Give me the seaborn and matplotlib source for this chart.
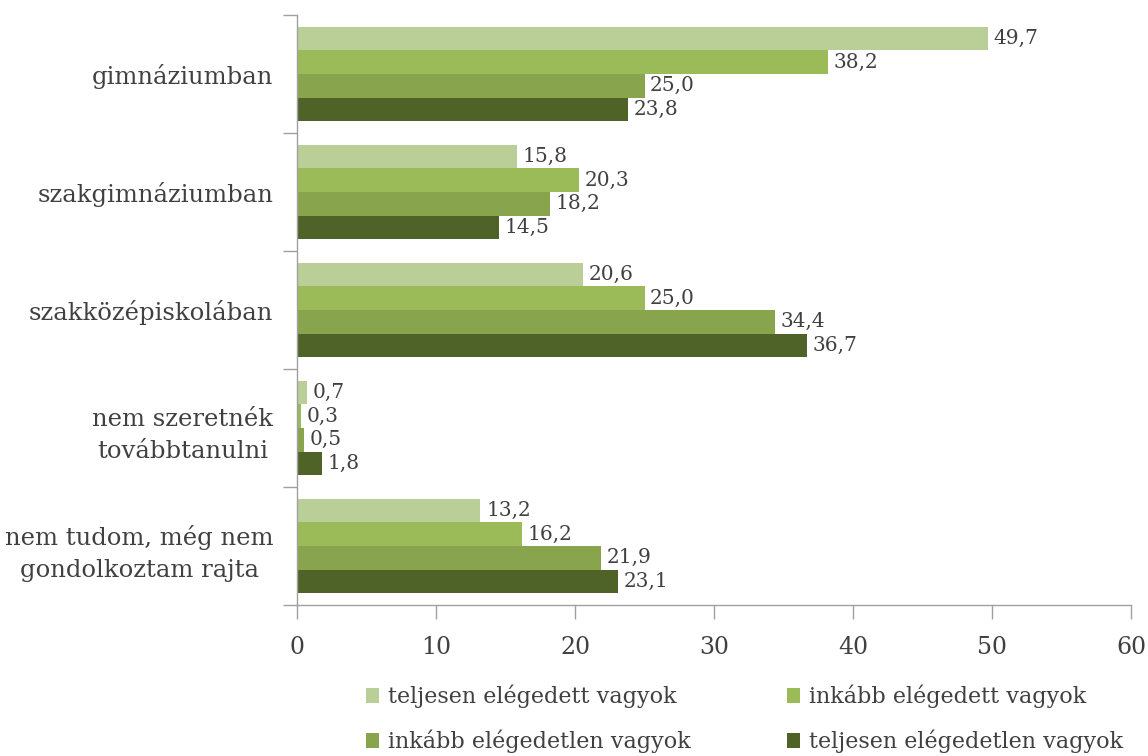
import numpy as np
import pandas as pd
import matplotlib.pyplot as plt
import seaborn as sns
from matplotlib.patches import Patch

categories = ['gimnáziumban', 'szakgimnáziumban', 'szakközépiskolában',
              'nem szeretnék\ntovábbtanulni', 'nem tudom, még nem\ngondolkoztam rajta']
series = ['teljesen elégedett vagyok', 'inkább elégedett vagyok',
          'inkább elégedetlen vagyok', 'teljesen elégedetlen vagyok']
teljesen_elegedett = [49.7, 15.8, 20.6, 0.7, 13.2]
inkabb_elegedett = [38.2, 20.3, 25.0, 0.3, 16.2]
inkabb_elegedetlen = [25.0, 18.2, 34.4, 0.5, 21.9]
teljesen_elegedetlen = [23.8, 14.5, 36.7, 1.8, 23.1]
colors = ['#bacf98', '#9bbb59', '#88a44d', '#4f6228']
xticks = [0, 10, 20, 30, 40, 50, 60]

rows = []
for s, vals in zip(series, [teljesen_elegedett, inkabb_elegedett,
                            inkabb_elegedetlen, teljesen_elegedetlen]):
    for c, v in zip(categories, vals):
        rows.append({'cat': c, 'val': v, 'status': s})
df = pd.DataFrame(rows)

sns.set_style('white')
plt.rcParams['font.family'] = ['DejaVu Serif']
txt = '#404040'

fig = plt.figure(figsize=(11.48, 7.56), dpi=100)
ax = fig.add_axes([297 / 1148, 1 - 605 / 756, (1131 - 297) / 1148, 590 / 756])

sns.barplot(data=df, y='cat', x='val', hue='status', palette=colors,
            orient='h', width=0.8, order=categories, hue_order=series,
            saturation=1, ax=ax, legend=False, linewidth=0)

for cont in ax.containers:
    labels = [f'{v:.1f}'.replace('.', ',') for v in cont.datavalues]
    ax.bar_label(cont, labels=labels, padding=4, fontsize=14.5, color=txt)

ax.set_xlim(0, 60)
ax.set_ylim(len(categories) - 0.5, -0.5)
ax.set_xticks(xticks)
ax.set_xticklabels([str(t) for t in xticks], fontsize=17, color=txt)
ax.set_yticks(range(len(categories)))
ax.set_yticklabels(categories, fontsize=17.5, color=txt,
                   multialignment='center', linespacing=1.5)
ax.set_yticks(np.arange(-0.5, len(categories)), minor=True)
ax.tick_params(axis='y', which='major', length=0, pad=17)
ax.tick_params(axis='y', which='minor', length=10, width=1, color='#a0a0a0', direction='out', left=True)
ax.tick_params(axis='x', which='major', length=10, width=1, color='#a0a0a0', direction='out', pad=12, bottom=True)
ax.set_xlabel('')
ax.set_ylabel('')

for side in ['top', 'right']:
    ax.spines[side].set_visible(False)
for side in ['left', 'bottom']:
    ax.spines[side].set_color('#a0a0a0')
    ax.spines[side].set_linewidth(1)

handles = [Patch(facecolor=c, edgecolor='none') for c in colors]
order = [0, 2, 1, 3]
fig.legend([handles[i] for i in order], [series[i] for i in order],
           loc='center left', bbox_to_anchor=(355 / 1148, 1 - 719 / 756),
           ncol=2, frameon=False, fontsize=16, labelcolor=txt,
           handlelength=0.6, handleheight=0.7, handletextpad=0.4,
           columnspacing=4.3, labelspacing=0.95, borderpad=0)

fig.savefig('out.png', dpi=100)
